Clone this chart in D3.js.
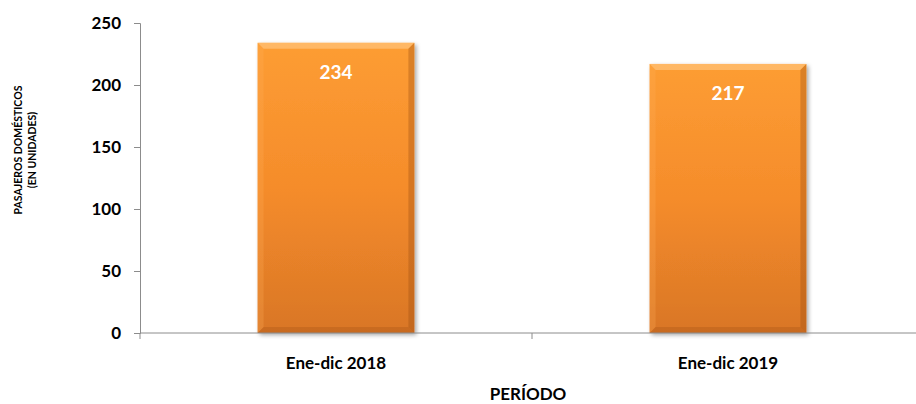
<!DOCTYPE html>
<html lang="es">
<head>
<meta charset="UTF-8">
<title>Pasajeros domésticos</title>
<script src="https://d3js.org/d3.v7.min.js"></script>
<style>
    body { margin: 0; background: #fff; }
    svg { display: block; }
    svg text { font-family: Lato, "Open Sans", sans-serif; }
    .tick text { font-weight: bold; fill: #000; }
</style>
</head>
<body>
<div id="chart"></div>
<script>
    // chart data
    const periods = ["Ene-dic 2018", "Ene-dic 2019"];
    const passengers = [234, 217];
    const yTicks = [0, 50, 100, 150, 200, 250];

    const width = 916, height = 404;
    const margin = {top: 23, right: -8, bottom: 71, left: 140};
    const plotW = width - margin.left - margin.right;
    const plotH = height - margin.top - margin.bottom;

    const svg = d3.select("#chart").append("svg")
        .attr("width", width)
        .attr("height", height);

    const defs = svg.append("defs");
    const grad = defs.append("linearGradient")
        .attr("id", "barFill")
        .attr("x1", 0).attr("y1", 0).attr("x2", 0).attr("y2", 1);
    grad.append("stop").attr("offset", "0%").attr("stop-color", "#fd9d33");
    grad.append("stop").attr("offset", "50%").attr("stop-color", "#f58c2b");
    grad.append("stop").attr("offset", "100%").attr("stop-color", "#d97626");

    const shadow = defs.append("filter").attr("id", "shadow")
        .attr("x", "-10%").attr("y", "-10%").attr("width", "130%").attr("height", "120%");
    shadow.append("feDropShadow")
        .attr("dx", 2).attr("dy", 2).attr("stdDeviation", 2)
        .attr("flood-color", "#000").attr("flood-opacity", 0.35);

    const g = svg.append("g").attr("transform", `translate(${margin.left},${margin.top})`);

    const x = d3.scaleBand().domain(periods).range([0, plotW]).paddingInner(0).paddingOuter(0);
    const y = d3.scaleLinear().domain([0, 250]).range([plotH, 0]);

    const barW = x.bandwidth() * 0.4;
    const bev = 6;

    const bars = g.selectAll(".bar").data(periods).enter().append("g")
        .attr("class", "bar")
        .attr("transform", d => `translate(${x(d) + (x.bandwidth() - barW) / 2},0)`);

    bars.append("rect")
        .attr("y", (d, i) => y(passengers[i]))
        .attr("width", barW)
        .attr("height", (d, i) => plotH - y(passengers[i]))
        .attr("fill", "url(#barFill)")
        .attr("filter", "url(#shadow)");

    // bevel edges
    const edge = (i, side) => {
        const t = y(passengers[i]), b = plotH, w = barW;
        if (side === "top") return [[0, t], [w, t], [w - bev, t + bev], [bev, t + bev]];
        if (side === "left") return [[0, t], [bev, t + bev], [bev, b - bev], [0, b]];
        if (side === "right") return [[w, t], [w, b], [w - bev, b - bev], [w - bev, t + bev]];
        return [[0, b], [bev, b - bev], [w - bev, b - bev], [w, b]];
    };
    const edgeStyle = {
        top: ["#ffc37a", 0.7],
        left: ["#ffb05a", 0.25],
        right: ["#9c4d12", 0.35],
        bottom: ["#a85716", 0.35]
    };
    ["top", "left", "right", "bottom"].forEach(side => {
        bars.append("path")
            .attr("d", (d, i) => d3.line()(edge(i, side)) + "Z")
            .attr("fill", edgeStyle[side][0])
            .attr("fill-opacity", edgeStyle[side][1]);
    });

    bars.append("text")
        .attr("x", barW / 2)
        .attr("y", (d, i) => y(passengers[i]) + 36)
        .attr("text-anchor", "middle")
        .attr("fill", "#fff")
        .attr("font-size", 19)
        .attr("font-weight", "bold")
        .text((d, i) => passengers[i]);

    // axes
    const yAxis = g.append("g")
        .call(d3.axisLeft(y).tickValues(yTicks).tickSize(6).tickPadding(13));
    yAxis.attr("font-family", null).selectAll("text").attr("font-size", 17);

    const xAxis = g.append("g")
        .attr("transform", `translate(0,${plotH})`)
        .call(d3.axisBottom(x).tickSize(0).tickPadding(24));
    xAxis.attr("font-family", null).selectAll("text").attr("font-size", 17);

    // category boundary ticks
    g.append("g").selectAll("line")
        .data(periods.concat(["end"]))
        .enter().append("line")
        .attr("x1", (d, i) => i * x.step())
        .attr("x2", (d, i) => i * x.step())
        .attr("y1", plotH)
        .attr("y2", plotH + 6)
        .attr("stroke", "#8c8c8c");

    svg.selectAll(".domain, .tick line").attr("stroke", "#8c8c8c");
    xAxis.select(".domain").attr("d", `M0,0H${plotW}`);

    // titles
    svg.append("text")
        .attr("x", margin.left + plotW / 2 - 4)
        .attr("y", 400)
        .attr("text-anchor", "middle")
        .attr("font-size", 17)
        .attr("font-weight", "bold")
        .text("PERÍODO");

    const yTitle = svg.append("text")
        .attr("transform", "translate(22,150) rotate(-90)")
        .attr("text-anchor", "middle")
        .attr("font-size", 10.5)
        .attr("font-weight", "bold");
    yTitle.append("tspan").attr("x", 0).attr("dy", 0).text("PASAJEROS DOMÉSTICOS");
    yTitle.append("tspan").attr("x", 0).attr("dy", 14).text("(EN UNIDADES)");
</script>
</body>
</html>
